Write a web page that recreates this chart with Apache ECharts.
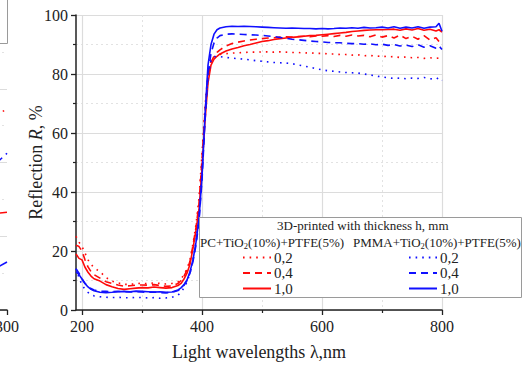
<!DOCTYPE html>
<html>
<head>
<meta charset="utf-8">
<script src="https://cdn.jsdelivr.net/npm/echarts@6/dist/echarts.min.js"></script>
<style>
html,body{margin:0;padding:0;background:#fff;}
#chart{width:528px;height:365px;}
</style>
</head>
<body>
<div id="chart"></div>
<script>
// ---------- data ----------
const wavelengths = [190,195,200,205,210,215,220,230,240,250,260,270,280,290,300,310,320,330,340,350,360,365,370,375,380,385,390,395,400,405,410,415,420,425,430,440,450,460,470,480,490,500,510,520,530,540,550,560,570,580,590,600,610,620,630,640,650,660,670,680,690,700,710,720,730,740,750,760,770,780,790,795,800];

const pc02 = [25,23,21.5,19.3,17,15.5,14.3,13,11,9.8,9.2,8.7,8.7,8.9,9.1,8.9,9.2,9.0,8.8,9.0,9.5,10.5,12,14,17,22.5,29,38,53,69,80,84.5,85.8,86.3,86.6,86.9,87.1,87.2,87.3,87.4,87.4,87.5,87.5,87.4,87.5,87.4,87.3,87.3,87.1,87.2,87,87,86.8,86.8,86.6,86.6,86.4,86.5,86.2,86.3,86,86.1,85.8,85.9,85.6,85.8,85.5,85.6,85.3,85.5,85.3,85.4,85.2];
const pc04 = [22,21.5,20,17,14.6,13,12,10.8,9.6,9,8.5,8.1,8.2,8.4,8.5,8.4,8.6,8.3,8,8.2,9,10,11.5,13.5,16.5,22,28,36,51,67,79,84,86,87.3,88.2,89.5,90.3,90.8,91.2,91.5,91.8,92,92.2,92.3,92.5,92.6,92.5,92.7,92.8,92.6,92.9,92.8,93,92.7,93.1,92.8,93.2,92.9,93.1,92.6,93.3,92.5,93,92.2,93.2,92,92.8,91.8,93,91.5,92.3,91,90.5];
const pc10 = [19,17.5,17,14.5,12.8,11.5,10.6,9.8,8.6,7.9,7.3,7.0,7.2,7.4,7.6,7.5,7.8,7.6,7.4,7.6,8.3,9.0,10.5,12.5,15.5,21,27,34,48,64,77,83,85,86,86.8,87.8,88.5,89,89.6,90,90.5,91,91.3,91.7,92,92.2,92.4,92.6,92.8,93,93.1,93.3,93.5,93.7,93.9,94.1,94.4,94.6,94.8,94.9,95,95,95.1,95.2,94.8,95.3,94.9,95.4,94.8,95.2,94.6,95.0,94.2];
const pmma02 = [14,11,8.5,7,6,5.2,4.8,4.5,4.3,4.2,4.3,4.2,4.1,4.3,4.2,4.1,4.2,4.0,4.1,4.3,5,6,7.5,9.5,12.5,17,23,32,47,66,79,84.5,85.8,86,85.9,85.6,85.4,85.2,85,84.8,84.5,84.3,84.1,83.9,83.8,83.7,83.5,83.1,82.7,82.3,81.8,81.4,81.1,80.9,80.7,80.5,80.4,80.3,80,79.7,79.3,79,78.7,78.5,78.6,78.4,78.6,78.5,78.8,78.4,78.2,78.8,77.8];
const pmma04 = [14,12.5,10.5,9,8,7.3,6.8,6.4,6.3,6.2,6.3,6.2,6.1,6.2,6.1,6.0,6.1,5.9,5.8,6.0,6.6,7.3,8.4,10,12.5,16.5,22,30,44,64,80,87,90.5,92.2,93,93.5,93.6,93.5,93.4,93.3,93.2,93.1,92.9,92.7,92.4,92.1,91.8,91.6,91.4,91.2,91.0,90.9,90.7,90.6,90.6,90.4,90.3,90.3,90.1,90.2,89.9,90.1,89.7,90,89.5,89.8,89.3,89.9,89.1,89.6,88.7,89.5,88.3];
const pmma10 = [13,12,10.5,9,7.8,7,6.5,6,5.9,6,6.2,6.3,6.2,6.4,6.3,6.2,6.1,6.2,6.0,6.1,6.8,7.5,8.6,10.2,13,17,23,31,45,66,83,90,93.5,95,95.6,96,96.2,96.1,96.2,96.1,96,95.9,95.8,95.7,95.6,95.5,95.6,95.5,95.4,95.4,95.3,95.4,95.3,95.4,95.6,95.5,95.7,95.5,95.8,95.6,95.7,95.9,95.6,96,95.5,95.9,95.6,96,95.5,95.9,96,97.2,94.5];

const xMajorTicks = [200,400,600,800];
const xMinorTicks = [300,500,700];

const legendTitle = '3D-printed with thickness h, mm';
const pcHeader = '{n|PC+TiO}{s|2}{n|(10%)+PTFE(5%)}';
const pmmaHeader = '{n|PMMA+TiO}{s|2}{n|(10%)+PTFE(5%)}';
const yAxisName = '{a|Reflection }{i|R}{a|, %}';
const xAxisName = 'Light wavelengths λ,nm';

// fragment of neighbouring figure at left edge
const prevWl = [290, 300];
const prevRedDot = [5.3, 5.45];
const prevBlueDash = [4.0, 4.25];
const prevRedSolid = [2.62, 2.65];
const prevBlueSolid = [1.15, 1.3];
const prevXTicks = [300];

// ---------- chart ----------
const FONT = "'Liberation Serif','Times New Roman',serif";
const RED = '#ff0a0a';
const BLUE = '#1010ff';
const pair = (xs, ys) => xs.map((x, i) => [x, ys[i]]);

function mainLine(name, vals, color, type) {
  return {
    name: name, type: 'line', xAxisIndex: 0, yAxisIndex: 0,
    data: pair(wavelengths, vals), symbol: 'none', showSymbol: false,
    lineStyle: {color: color, width: 1.6, type: type},
    itemStyle: {color: color}, z: 3, animation: false
  };
}
function prevLine(vals, color, type) {
  return {
    type: 'line', xAxisIndex: 2, yAxisIndex: 1, data: pair(prevWl, vals),
    symbol: 'none', lineStyle: {color: color, width: 1.6, type: type}, animation: false
  };
}
const DOT = [1.6, 5];
const DASH = [7, 5];
const subRich = {
  n: {fontFamily: FONT, fontSize: 13, color: '#222', lineHeight: 15},
  s: {fontFamily: FONT, fontSize: 8.5, color: '#222', lineHeight: 15, verticalAlign: 'bottom', padding: [5,0,0,0]}
};

const chart = echarts.init(document.getElementById('chart'), null, {renderer: 'svg'});
const option = {
  animation: false,
  backgroundColor: '#fff',
  textStyle: {fontFamily: FONT},
  grid: [
    {left: 76, right: 86, top: 15, height: 295, containLabel: false, outerBoundsMode: 'none'},
    {left: -193, width: 200, top: 15, height: 295, containLabel: false, outerBoundsMode: 'none'}
  ],
  title: [
    {text: legendTitle, left: 277, top: 219, padding: 0, z: 6,
     textStyle: {fontFamily: FONT, fontSize: 13, fontWeight: 'normal', color: '#222'}},
    {text: pcHeader, left: 200, top: 235, padding: 0, z: 6,
     textStyle: {fontFamily: FONT, fontSize: 13, fontWeight: 'normal', color: '#222', rich: subRich}},
    {text: pmmaHeader, left: 353, top: 235, padding: 0, z: 6,
     textStyle: {fontFamily: FONT, fontSize: 13, fontWeight: 'normal', color: '#222', rich: subRich}}
  ],
  graphic: [
    {type: 'rect', left: 199, top: 217, z: 4,
     shape: {width: 322, height: 80}, style: {fill: '#fff', stroke: '#9a9a9a', lineWidth: 1}},
    {type: 'rect', left: -20, top: -2, z: 4,
     shape: {width: 27, height: 45}, style: {fill: '#fff', stroke: '#9a9a9a', lineWidth: 1}}
  ],
  legend: [
    {orient: 'vertical', left: 242, top: 250, itemWidth: 28, itemHeight: 10, itemGap: 0.5, padding: 0, z: 6,
     data: ['PC 0,2','PC 0,4','PC 1,0'], formatter: n => n.split(' ')[1],
     itemStyle: {opacity: 0, borderWidth: 0},
     textStyle: {fontFamily: FONT, fontSize: 15, color: '#222', padding: [0,0,0,-2]}},
    {orient: 'vertical', left: 408, top: 250, itemWidth: 28, itemHeight: 10, itemGap: 0.5, padding: 0, z: 6,
     data: ['PMMA 0,2','PMMA 0,4','PMMA 1,0'], formatter: n => n.split(' ')[1],
     itemStyle: {opacity: 0, borderWidth: 0},
     textStyle: {fontFamily: FONT, fontSize: 15, color: '#222', padding: [0,0,0,-2]}}
  ],
  xAxis: [
    {type: 'value', gridIndex: 0, position: 'bottom', min: 190, max: 800,
     name: xAxisName, nameLocation: 'middle', nameGap: 33, nameMoveOverlap: false,
     nameTextStyle: {fontFamily: FONT, fontSize: 18, color: '#222'},
     axisLine: {show: true, onZero: false, lineStyle: {color: '#222', width: 1.5}},
     axisTick: {show: true, customValues: xMajorTicks, length: 5, lineStyle: {color: '#222', width: 1.3}},
     axisLabel: {customValues: xMajorTicks, fontFamily: FONT, fontSize: 16, color: '#222', margin: 8},
     splitLine: {show: true, lineStyle: {color: '#dcdcdc', width: 1.2, type: 'solid'}},
     minorTick: {show: false}, minorSplitLine: {show: false}},
    {type: 'value', gridIndex: 0, position: 'bottom', min: 190, max: 800,
     axisLine: {show: false, onZero: false},
     axisTick: {show: true, customValues: xMinorTicks, length: 3, lineStyle: {color: '#222', width: 1.2}},
     axisLabel: {show: false},
     splitLine: {show: true, lineStyle: {color: '#e2e2e2', width: 1, type: [2, 3]}}},
    {type: 'value', gridIndex: 1, position: 'bottom', min: 100, max: 300,
     axisLine: {show: true, onZero: false, lineStyle: {color: '#222', width: 1.5}},
     axisTick: {show: true, customValues: prevXTicks, length: 5, lineStyle: {color: '#222', width: 1.3}},
     axisLabel: {customValues: prevXTicks, fontFamily: FONT, fontSize: 16, color: '#222', margin: 8},
     splitLine: {show: false}}
  ],
  yAxis: [
    {type: 'value', gridIndex: 0, min: 0, max: 100, interval: 20,
     name: yAxisName, nameLocation: 'middle', nameGap: 31, nameRotate: 90, nameMoveOverlap: false,
     nameTextStyle: {fontFamily: FONT, fontSize: 18, color: '#222',
       rich: {a: {fontFamily: FONT, fontSize: 18, color: '#222'},
              i: {fontFamily: FONT, fontSize: 18, color: '#222', fontStyle: 'italic'}}},
     axisLine: {show: true, onZero: false, lineStyle: {color: '#222', width: 1.5}},
     axisTick: {show: true, length: 5, lineStyle: {color: '#222', width: 1.3}},
     minorTick: {show: true, splitNumber: 2, length: 3, lineStyle: {color: '#222', width: 1.2}},
     axisLabel: {fontFamily: FONT, fontSize: 16, color: '#222', margin: 8},
     splitLine: {show: true, lineStyle: {color: '#dcdcdc', width: 1.2}},
     minorSplitLine: {show: true, lineStyle: {color: '#e2e2e2', width: 1, type: [2, 3]}}},
    {type: 'value', gridIndex: 1, min: 0, max: 8, interval: 2,
     axisLine: {show: false}, axisTick: {show: false}, axisLabel: {show: false},
     splitLine: {show: true, lineStyle: {color: '#dcdcdc', width: 1.2}},
     minorTick: {show: false, splitNumber: 2},
     minorSplitLine: {show: true, lineStyle: {color: '#e2e2e2', width: 1, type: [2, 3]}}}
  ],
  series: [
    mainLine('PC 0,2', pc02, RED, DOT),
    mainLine('PC 0,4', pc04, RED, DASH),
    mainLine('PC 1,0', pc10, RED, 'solid'),
    mainLine('PMMA 0,2', pmma02, BLUE, DOT),
    mainLine('PMMA 0,4', pmma04, BLUE, DASH),
    mainLine('PMMA 1,0', pmma10, BLUE, 'solid'),
    prevLine(prevRedDot, RED, DOT),
    prevLine(prevBlueDash, BLUE, DASH),
    prevLine(prevRedSolid, RED, 'solid'),
    prevLine(prevBlueSolid, BLUE, 'solid')
  ]
};
chart.setOption(option);
</script>
</body>
</html>
